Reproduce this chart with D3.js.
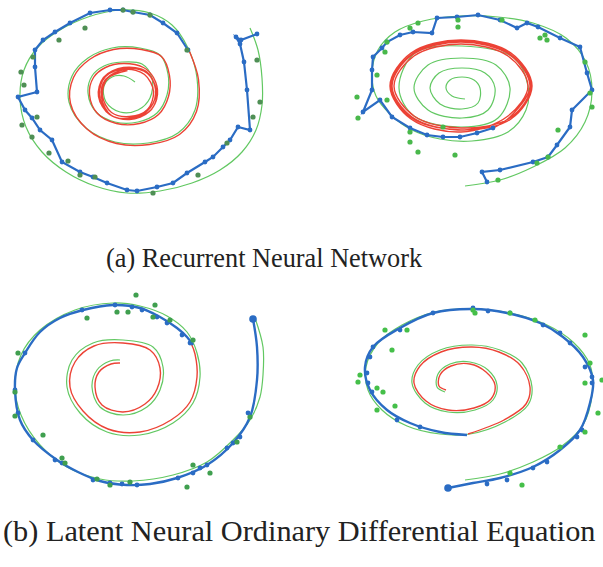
<!DOCTYPE html>
<html>
<head>
<meta charset="utf-8">
<script src="https://cdn.jsdelivr.net/npm/d3@7"></script>
<style>
  body { margin: 0; background: #fff; }
  text { font-family: "Liberation Serif", "Times New Roman", serif; fill: #222; }
</style>
</head>
<body>
<div id="chart"></div>
<script>
////////////////////////////////////////////////////////////
//////////////////////// Data //////////////////////////////
////////////////////////////////////////////////////////////
// every panel uses its own local units: x 0-300, y 0-210

// (a) RNN, left panel
var a1Truth = [[250,28],[258,50],[262,78],[262,105],[256,130],[242,152],[220,170],[192,183],[160,191],[127,193],[95,186],[66,172],[42,152],[26,127],[20,98],[24,70],[38,47],[60,30],[88,17],[120,10],[150,13],[172,25],[188,48],[197,78],[195,110],[178,133],[148,143],[115,142],[86,128],[69,102],[72,76],[88,58],[112,48],[140,48],[160,55],[168,74],[167,95],[157,113],[138,122],[115,122],[96,112],[88,93],[92,76],[104,66],[122,62],[142,64],[152,78],[150,98],[138,110],[120,112],[106,102],[104,86],[112,77],[124,76],[135,82]];
var a1Obs = [[85,28],[59,40],[33,57],[21,72],[24,85],[37,117],[22,125],[32,137],[49,153],[68,161],[80,175],[95,177],[153,193],[198,175],[227,143],[253,117],[260,102],[257,60],[187,50],[150,15],[133,12],[123,10]];
var a1Fit = [[257,34],[241,40],[236,37],[240,44],[244,62],[247,90],[250,130],[238,127],[230,140],[223,147],[213,157],[205,162],[187,173],[173,183],[157,187],[137,191],[127,190],[107,183],[93,177],[80,172],[62,162],[52,140],[40,130],[32,118],[25,110],[18,97],[37,92],[35,67],[35,50],[43,40],[55,32],[70,23],[90,13],[110,10],[123,10],[133,12],[150,15],[163,23],[177,33],[188,50]];
var a1Extrap = [[188,50],[197,78],[195,110],[178,133],[148,143],[115,142],[86,128],[69,102],[72,76],[88,58],[112,48],[140,48],[160,55],[168,74],[167,95],[157,113],[138,122],[115,122],[96,112],[88,93],[92,76],[104,66],[122,62],[142,66],[152,76],[156,93],[148,110],[128,118],[107,112],[98,93],[104,75],[125,67],[146,72],[155,90],[150,108],[130,117],[108,113],[97,95],[102,76],[122,66],[145,70],[154,88],[149,106],[131,116],[110,114],[100,96],[104,78],[124,68],[143,73],[152,90],[146,108],[128,115],[110,111],[101,94],[106,77],[126,69]];

// (a) RNN, right panel
var a2Truth = [[165,186],[200,180],[233,167],[265,148],[285,122],[292,92],[286,62],[266,38],[233,23],[198,17],[160,16],[123,21],[95,32],[78,50],[72,73],[76,96],[90,114],[112,130],[140,139],[172,141],[208,132],[226,110],[228,86],[214,58],[162,46],[115,53],[99,88],[114,116],[162,127],[198,118],[210,88],[196,65],[162,58],[128,65],[114,88],[128,110],[162,118],[188,110],[195,88],[185,73],[162,68],[139,73],[130,88],[140,104],[162,109],[178,103],[180,88],[174,80],[162,77],[150,80],[146,88],[152,96],[165,99]];
var a2Obs = [[118,23],[110,28],[158,20],[158,27],[202,20],[240,38],[247,40],[245,35],[285,62],[290,93],[292,107],[258,130],[248,157],[237,163],[198,180],[87,42],[85,52],[77,75],[57,97],[87,100],[58,118],[110,132],[110,142],[118,152],[155,155],[143,127]];
var a2Fit = [[187,182],[182,172],[200,170],[233,162],[248,157],[257,145],[270,127],[272,110],[292,90],[287,73],[280,47],[260,38],[238,27],[227,23],[217,28],[200,20],[178,15],[157,17],[137,18],[132,33],[113,32],[100,35],[87,42],[82,48],[73,57],[72,70],[72,90],[63,112],[80,100],[92,117],[110,128],[127,135],[143,137],[160,137],[177,133],[193,128]];
var a2Extrap = [[193,128],[210,117],[230,86],[210,55],[161,42],[112,55],[92,86],[112,117],[161,130],[211,119],[232,86],[211,53],[161,40],[111,53],[90,86],[111,119],[161,132],[208,116],[228,86],[208,56],[161,44],[114,56],[94,86],[114,116],[161,128],[210,118],[231,86],[210,54],[161,41],[112,54],[91,86],[112,118],[158,130],[190,126]];

// (b) Latent ODE, left panel
var b1Truth = [[255,38],[263,67],[263,95],[260,117],[250,140],[233,160],[207,182],[173,195],[133,201],[100,199],[67,187],[40,165],[21,135],[15,107],[21,75],[40,50],[75,30],[113,23],[140,26],[167,36],[187,52],[197,73],[200,97],[193,123],[173,143],[140,155],[107,152],[80,133],[67,107],[72,80],[93,63],[123,60],[153,67],[163,87],[160,110],[147,127],[123,135],[100,127],[92,107],[97,90],[110,81],[120,80]];
var b1Obs = [[136,15],[155,25],[117,32],[128,32],[87,38],[153,37],[170,40],[193,60],[18,73],[15,112],[15,136],[43,155],[62,178],[65,183],[97,199],[110,205],[130,202],[187,207],[193,185],[210,193],[237,162],[250,137]];
var b1Fit = [[253,39],[257,67],[257,100],[250,137],[233,163],[207,185],[177,198],[150,204],[127,205],[100,201],[78,192],[57,180],[33,160],[20,140],[15,110],[17,88],[25,73],[40,52],[60,38],[83,30],[113,25],[140,28],[160,37],[177,48],[187,57],[193,65]];
var b1FitDots = [[82,30],[115,25],[132,27],[142,30],[157,37],[167,43],[182,55],[190,63],[25,73],[15,110],[18,133],[33,160],[55,180],[62,183],[93,200],[110,203],[122,204],[137,205],[178,198],[193,193],[200,188],[207,185],[227,168],[233,163],[240,157],[248,133]];
var b1Extrap = [[191,63],[195,74],[197,97],[190,122],[171,140],[140,152],[108,149],[83,131],[70,107],[75,82],[94,66],[123,63],[150,70],[160,88],[157,109],[145,124],[123,132],[102,125],[95,107],[99,92],[111,84],[120,83]];

// (b) Latent ODE, right panel
var b2Truth = [[165,200],[200,194],[233,182],[262,166],[283,145],[292,115],[290,85],[273,62],[245,44],[210,33],[173,29],[135,32],[102,45],[78,63],[66,87],[68,110],[82,130],[107,146],[140,154],[170,154],[205,142],[228,125],[232,107],[222,83],[200,70],[172,65],[140,70],[118,85],[112,103],[125,123],[148,132],[175,130],[193,120],[197,105],[188,90],[170,82],[150,84],[138,94],[137,107],[145,112]];
var b2Obs = [[85,50],[107,50],[92,70],[60,95],[58,102],[77,108],[83,112],[95,126],[77,130],[175,33],[173,30],[210,33],[235,40],[285,55],[290,83],[285,103],[302,100],[298,133],[285,152],[260,167],[210,193],[222,205]];
var b2Fit = [[148,208],[173,203],[200,198],[233,187],[260,170],[280,150],[290,123],[293,100],[283,77],[263,57],[240,43],[207,33],[173,29],[133,33],[100,48],[73,67],[65,87],[70,110],[87,130],[110,143],[140,152],[167,155]];
var b2FitDots = [[133,33],[173,28],[188,31],[210,33],[243,45],[260,53],[270,63],[285,87],[292,97],[292,103],[282,150],[277,157],[247,182],[233,188],[207,200],[187,204],[100,50],[73,67],[70,77],[67,93],[68,103],[72,112],[97,140],[120,147]];
var b2Extrap = [[168,154],[204,140],[226,124],[230,107],[220,85],[199,72],[172,67],[141,72],[120,86],[114,103],[126,121],[148,130],[174,128],[191,119],[195,105],[186,92],[170,84],[151,86],[140,95],[139,106],[146,110]];

var captions = ["(a) Recurrent Neural Network", "(b) Latent Neural Ordinary Differential Equation"];

////////////////////////////////////////////////////////////
////////////////////// Set-Up //////////////////////////////
////////////////////////////////////////////////////////////

var width = 603, height = 567;
var blue = "#2b6cc4", green = "#62c862", red = "#ec4336";

var panels = [
  {left:0,   top:0,   truth:a1Truth, obs:a1Obs, fit:a1Fit, dots:a1Fit, extrap:a1Extrap, smooth:false, obsColor:"#4f8f55", shift:1.5},
  {left:300, top:0,   truth:a2Truth, obs:a2Obs, fit:a2Fit, dots:a2Fit, extrap:a2Extrap, smooth:false, obsColor:"#48b84c", shift:0},
  {left:0,   top:280, truth:b1Truth, obs:b1Obs, fit:b1Fit, dots:b1FitDots, extrap:b1Extrap, smooth:true, obsColor:"#3f9f50", start:b1Fit[0], shift:0},
  {left:300, top:280, truth:b2Truth, obs:b2Obs, fit:b2Fit, dots:b2FitDots, extrap:b2Extrap, smooth:true, obsColor:"#45bf4a", start:b2Fit[0], shift:0}
];

var svg = d3.select("#chart").append("svg")
    .attr("width", width)
    .attr("height", height);

svg.append("defs").append("filter")
    .attr("id", "soft")
    .append("feGaussianBlur")
    .attr("stdDeviation", 0.55);

////////////////////////////////////////////////////////////
////////////////////// Draw panels /////////////////////////
////////////////////////////////////////////////////////////

panels.forEach(function(p) {
  var x = d3.scaleLinear().domain([0, 300]).range([p.left, p.left + 300]);
  var y = d3.scaleLinear().domain([0, 210]).range([p.top, p.top + 210]);

  var smoothLine = d3.line()
      .x(function(d) { return x(d[0]); })
      .y(function(d) { return y(d[1]); })
      .curve(d3.curveCatmullRom.alpha(0.5));

  var fitLine = d3.line()
      .x(function(d) { return x(d[0]); })
      .y(function(d) { return y(d[1]); })
      .curve(p.smooth ? d3.curveCatmullRom.alpha(0.5) : d3.curveLinear);

  var g = svg.append("g").attr("filter", "url(#soft)");

  //ground truth spiral
  g.append("path")
    .attr("d", smoothLine(p.truth))
    .style("fill", "none")
    .style("stroke", green)
    .style("stroke-width", 1.2);

  //extrapolation
  g.append("path")
    .attr("d", smoothLine(p.extrap))
    .attr("transform", "translate(" + p.shift + "," + p.shift + ")")
    .style("fill", "none")
    .style("stroke", red)
    .style("stroke-width", 1.4);

  //reconstruction
  g.append("path")
    .attr("d", fitLine(p.fit))
    .style("fill", "none")
    .style("stroke", blue)
    .style("stroke-width", p.smooth ? 2.4 : 2.2);

  g.selectAll("circle.fit")
    .data(p.dots)
    .enter().append("circle")
    .attr("class", "fit")
    .attr("cx", function(d) { return x(d[0]); })
    .attr("cy", function(d) { return y(d[1]); })
    .attr("r", 2.4)
    .style("fill", blue);

  if (p.start) {
    g.append("circle")
      .attr("cx", x(p.start[0]))
      .attr("cy", y(p.start[1]))
      .attr("r", 3.8)
      .style("fill", blue);
  }

  //observations
  g.selectAll("circle.obs")
    .data(p.obs)
    .enter().append("circle")
    .attr("class", "obs")
    .attr("cx", function(d) { return x(d[0]); })
    .attr("cy", function(d) { return y(d[1]); })
    .attr("r", 2.6)
    .style("fill", p.obsColor);
});

////////////////////////////////////////////////////////////
////////////////////// Captions ////////////////////////////
////////////////////////////////////////////////////////////

svg.append("text")
  .attr("x", 106)
  .attr("y", 267)
  .style("font-size", "26.3px")
  .text(captions[0]);

svg.append("text")
  .attr("x", 3)
  .attr("y", 541)
  .style("font-size", "30.3px")
  .text(captions[1]);
</script>
</body>
</html>
